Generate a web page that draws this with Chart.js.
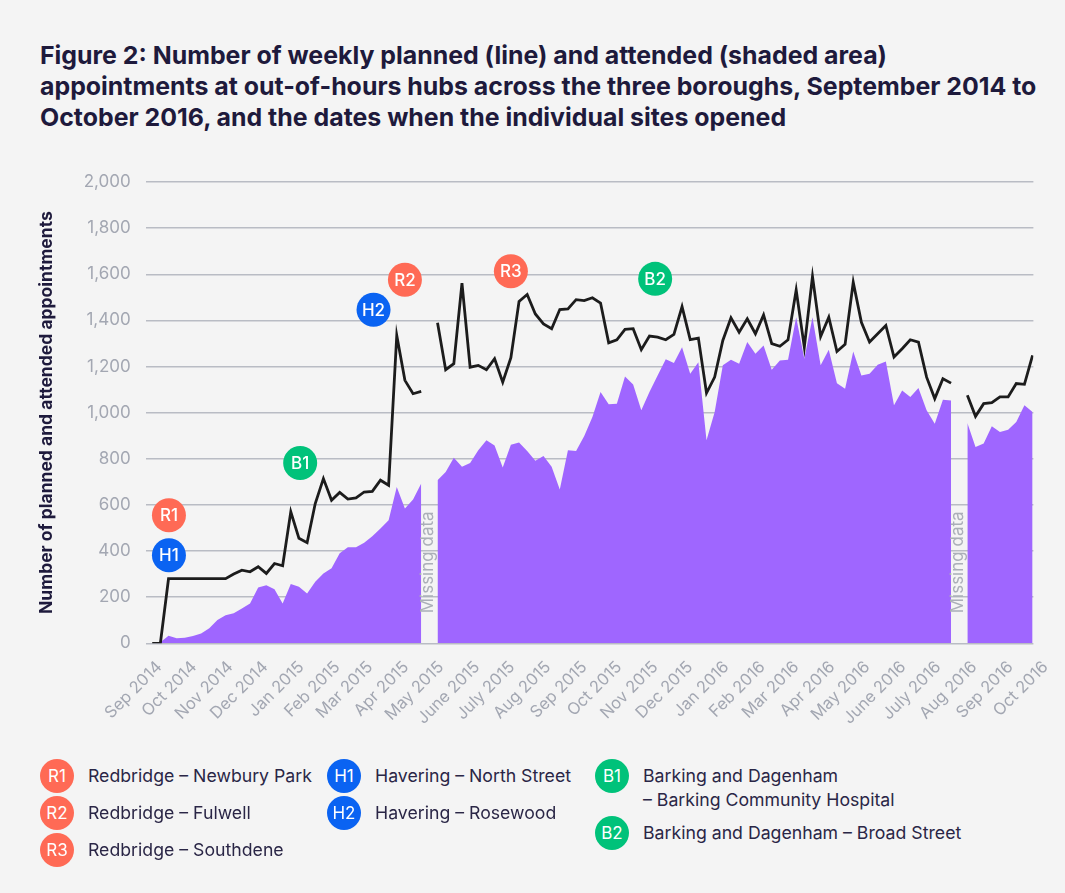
<!DOCTYPE html>
<html>
<head>
<meta charset="utf-8">
<script src="https://cdn.jsdelivr.net/npm/chart.js@4.4.0/dist/chart.umd.min.js"></script>
<style>
  html, body { margin: 0; padding: 0; background: #f4f4f4; }
  body { width: 1065px; height: 893px; position: relative; overflow: hidden; font-family: Inter, "Noto Sans", sans-serif; }
  h1 { position: absolute; left: 40px; top: 40px; margin: 0; font-size: 24.9px; line-height: 31px; font-weight: 700; color: #1e1a3c; white-space: nowrap; }
  #wrap { position: absolute; left: 0; top: 0; width: 1065px; height: 760px; }
  .badge { position: absolute; width: 34px; height: 34px; border-radius: 50%; color: #fff; font-size: 17px; line-height: 34px; text-align: center; }
  .legend-text { position: absolute; font-size: 17.7px; line-height: 23.5px; color: #2a2646; white-space: pre-line; }
</style>
</head>
<body>
<h1>Figure 2: Number of weekly planned (line) and attended (shaded area)<br>appointments at out-of-hours hubs across the three boroughs, September 2014 to<br>October 2016, and the dates when the individual sites opened</h1>
<div id="wrap"><canvas id="chart" width="1065" height="760"></canvas></div>
<div id="legend"></div>
<script>
// weekly values, first week starting 26 Aug 2014; null = missing data
const planned = [
  0, 0, 280, 280, 280, 280, 280, 280, 280, 280, 300, 317, 310, 332, 303, 346, 336, 570, 455, 436,
  606, 714, 620, 654, 625, 630, 656, 659, 707, 685, 1335, 1140, 1082, 1092,
  null,
  1390, 1186, 1212, 1561, 1197, 1205, 1186, 1234, 1132, 1238, 1482, 1512, 1428, 1385, 1364, 1447,
  1450, 1490, 1486, 1498, 1475, 1303, 1316, 1361, 1364, 1273, 1332, 1327, 1316, 1339, 1460, 1317,
  1323, 1085, 1154, 1313, 1411, 1349, 1407, 1342, 1424, 1299, 1288, 1316, 1532, 1284, 1590, 1330,
  1414, 1265, 1296, 1565, 1392, 1306, 1342, 1378, 1241, 1277, 1316, 1306, 1154, 1061, 1147, 1128,
  null,
  1075, 984, 1039, 1043, 1068, 1068, 1126, 1123, 1248
]
const attended = [
  0, 5, 33, 22, 24, 32, 43, 65, 101, 122, 130, 151, 173, 242, 252, 234, 173, 257, 245, 216,
  267, 303, 325, 390, 416, 416, 436, 464, 498, 534, 678, 584, 623, 693,
  null,
  707, 743, 805, 765, 782, 837, 880, 858, 762, 861, 871, 834, 791, 812, 765, 667,
  837, 834, 899, 981, 1089, 1036, 1039, 1157, 1122, 1010, 1089, 1161, 1231, 1215, 1284, 1169,
  1219, 880, 1003, 1205, 1229, 1212, 1306, 1255, 1291, 1186, 1226, 1229, 1414, 1234, 1414, 1205,
  1273, 1128, 1104, 1265, 1161, 1169, 1208, 1222, 1032, 1096, 1068, 1107, 1010, 952, 1056, 1053,
  null,
  955, 851, 866, 941, 916, 926, 959, 1032, 1003
]
const firstWeek = new Date(2014, 7, 26)
const monthLabels = ["Sep 2014", "Oct 2014", "Nov 2014", "Dec 2014", "Jan 2015", "Feb 2015", "Mar 2015",
  "Apr 2015", "May 2015", "June 2015", "July 2015", "Aug 2015", "Sep 2015", "Oct 2015", "Nov 2015",
  "Dec 2015", "Jan 2016", "Feb 2016", "Mar 2016", "Apr 2016", "May 2016", "June 2016", "July 2016",
  "Aug 2016", "Sep 2016", "Oct 2016"]
const yTicks = [0, 200, 400, 600, 800, 1000, 1200, 1400, 1600, 1800, 2000]

// sites and the week they opened
const siteCodes = ["R1", "R2", "R3", "H1", "H2", "B1", "B2"]
const siteNames = ["Redbridge – Newbury Park", "Redbridge – Fulwell", "Redbridge – Southdene",
  "Havering – North Street", "Havering – Rosewood",
  "Barking and Dagenham\n– Barking Community Hospital", "Barking and Dagenham – Broad Street"]
const siteWeek = [2.05, 31, 44, 2.05, 27.15, 18.15, 61.7]

// where the badges sit (value units on the y axis) and legend layout
const badgeLevel = { R1: 555, R2: 1576, R3: 1613, H1: 382, H2: 1446, B1: 782, B2: 1580 }
const legendPos = { R1: [57, 776], R2: [57, 813], R3: [57, 850], H1: [344, 776], H2: [344, 813], B1: [612, 776], B2: [612, 833] }
const boroughColor = { R: '#ff6a55', H: '#0a63f2', B: '#00c27a' }

const weeks = planned.map((v, i) => i)
const dayMs = 86400000

function monthWeek(k) {
  const d = new Date(2014, 8 + k, 1)
  return (d - firstWeek) / dayMs / 7
}

const siteMarkers = {
  id: 'siteMarkers',
  afterDatasetsDraw(chart) {
    const ctx = chart.ctx
    const x = chart.scales.x, y = chart.scales.y
    ctx.save()
    // missing data notes
    ctx.fillStyle = '#abafb8'
    ctx.font = '17px Inter'
    ctx.textBaseline = 'middle'
    ctx.textAlign = 'left'
    planned.forEach((v, i) => {
      if (v !== null) return
      ctx.save()
      ctx.translate(x.getPixelForValue(i) - 1, y.bottom - 30)
      ctx.rotate(-Math.PI / 2)
      ctx.fillText('Missing data', 0, 0)
      ctx.restore()
    })
    // site badges
    ctx.textAlign = 'center'
    ctx.font = '500 17px Inter'
    siteCodes.forEach((code, i) => {
      const cx = x.getPixelForValue(siteWeek[i])
      const cy = y.getPixelForValue(badgeLevel[code])
      ctx.fillStyle = boroughColor[code[0]]
      ctx.beginPath()
      ctx.arc(cx, cy, 17, 0, Math.PI * 2)
      ctx.fill()
      ctx.fillStyle = '#fff'
      ctx.fillText(code, cx, cy + 1)
    })
    ctx.restore()
  }
}

const chart = new Chart(document.getElementById('chart'), {
  type: 'line',
  data: {
    labels: weeks,
    datasets: [{
      label: 'Planned',
      data: planned,
      borderColor: '#1c1c1c',
      borderWidth: 2.8,
      pointRadius: 0,
      fill: false,
      spanGaps: false
    },
    {
      label: 'Attended',
      data: attended,
      borderWidth: 0,
      backgroundColor: '#9f66ff',
      pointRadius: 0,
      fill: 'origin',
      spanGaps: false
    }]
  },
  options: {
    responsive: false,
    animation: false,
    layout: { padding: { left: 30, right: 28.3, top: 182, bottom: 0 } },
    plugins: { legend: { display: false }, tooltip: { enabled: false } },
    scales: {
      x: {
        type: 'linear',
        min: -0.8,
        max: 108.1,
        grid: { display: false },
        border: { display: false },
        afterBuildTicks: s => { s.ticks = monthLabels.map((m, k) => ({ value: monthWeek(k) })) },
        afterFit: s => { s.height = 116.7 },
        ticks: {
          autoSkip: false,
          minRotation: 45,
          maxRotation: 45,
          padding: 6,
          color: '#a3a7b2',
          font: { family: 'Inter', size: 16.5 },
          callback: (v, i) => monthLabels[i]
        }
      },
      y: {
        min: 0,
        max: 2000,
        afterBuildTicks: s => { s.ticks = yTicks.map(v => ({ value: v })) },
        afterFit: s => { s.width = 115.7 },
        grid: { color: '#b9bcc4', lineWidth: 1.5, drawTicks: false },
        border: { display: false },
        ticks: { padding: 15, color: '#a3a7b2', font: { family: 'Inter', size: 17 } },
        title: {
          display: true,
          text: 'Number of planned and attended appointments',
          color: '#1e1a3c',
          font: { family: 'Inter', size: 17.5, weight: 'bold' },
          padding: { top: 6, bottom: 0 }
        }
      }
    }
  },
  plugins: [siteMarkers]
})

// legend
const legend = document.getElementById('legend')
siteCodes.forEach((code, i) => {
  const [cx, cy] = legendPos[code]
  const b = document.createElement('div')
  b.className = 'badge'
  b.textContent = code
  b.style.left = (cx - 17) + 'px'
  b.style.top = (cy - 17) + 'px'
  b.style.background = boroughColor[code[0]]
  legend.appendChild(b)
  const t = document.createElement('div')
  t.className = 'legend-text'
  t.textContent = siteNames[i]
  t.style.left = (cx + 31) + 'px'
  t.style.top = (cy - 12) + 'px'
  legend.appendChild(t)
})
</script>
</body>
</html>
